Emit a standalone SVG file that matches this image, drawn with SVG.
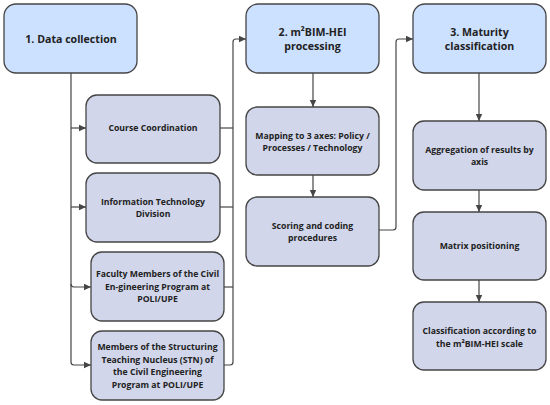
<svg xmlns="http://www.w3.org/2000/svg" width="550" height="405" viewBox="0 0 550 405">
<style>
.h{fill:#cce0ff;stroke:#454545;stroke-width:1.3}
.s{fill:#d1d6ea;stroke:#454545;stroke-width:1.3}
.ht{font-family:"Open Sans","Noto Sans",sans-serif;font-weight:700;font-size:10.6px;fill:#222;text-anchor:middle}
.st{font-family:"Open Sans","Noto Sans",sans-serif;font-weight:700;font-size:8.7px;fill:#222;text-anchor:middle}
.c{fill:none;stroke:#454545;stroke-width:1.2}
</style>
<defs>
<marker id="a" markerWidth="8" markerHeight="8" refX="7" refY="4" orient="auto" markerUnits="userSpaceOnUse">
<path d="M0,0.8 L7,4 L0,7.2 Z" fill="#454545"/>
</marker>
</defs>
<g id="connectors">
<path class="c" marker-end="url(#a)" d="M71,73 V362 Q71,365 74,365 H91"/>
<path class="c" marker-end="url(#a)" d="M71,128 H86"/>
<path class="c" marker-end="url(#a)" d="M71,207 H86"/>
<path class="c" marker-end="url(#a)" d="M71,284 Q71,287 74,287 H91"/>
<path class="c" marker-end="url(#a)" d="M224,365 H230 Q233,365 233,362 V42 Q233,39 236,39 H246"/>
<path class="c" d="M220,128 H233"/>
<path class="c" d="M220,207 H233"/>
<path class="c" d="M224,287 H233"/>
<path class="c" marker-end="url(#a)" d="M313,73 V107"/>
<path class="c" marker-end="url(#a)" d="M313,175 V197"/>
<path class="c" marker-end="url(#a)" d="M379,230 H393 Q396,230 396,227 V42 Q396,39 399,39 H413"/>
<path class="c" marker-end="url(#a)" d="M479,73 V121"/>
<path class="c" marker-end="url(#a)" d="M479,190 V212"/>
<path class="c" marker-end="url(#a)" d="M479,280 V302"/>
</g>
<g id="n1"><rect class="h" x="4" y="4" width="133" height="69" rx="12"/><text class="ht" x="71" y="42.8">1. Data collection</text></g>
<g id="n2"><rect class="h" x="246" y="4" width="133" height="69" rx="12"/><text class="ht" x="312.5" y="36">2. m²BIM-HEI</text><text class="ht" x="312.5" y="49.5">processing</text></g>
<g id="n3"><rect class="h" x="413" y="4" width="133" height="69" rx="12"/><text class="ht" x="479.5" y="36">3. Maturity</text><text class="ht" x="479.5" y="49.5">classification</text></g>
<g id="cc"><rect class="s" x="86" y="95" width="134" height="68" rx="11"/><text class="st" x="153" y="131">Course Coordination</text></g>
<g id="itd"><rect class="s" x="86" y="173" width="134" height="69" rx="11"/><text class="st" x="153" y="204.5">Information Technology</text><text class="st" x="153" y="217">Division</text></g>
<g id="fm"><rect class="s" x="91" y="252" width="133" height="69" rx="11"/><text class="st" x="157.5" y="277">Faculty Members of the Civil</text><text class="st" x="157.5" y="289.5">En-gineering Program at</text><text class="st" x="157.5" y="302">POLI/UPE</text></g>
<g id="stn"><rect class="s" x="91" y="331" width="133" height="69" rx="11"/><text class="st" x="157.5" y="350">Members of the Structuring</text><text class="st" x="157.5" y="362.5">Teaching Nucleus (STN) of</text><text class="st" x="157.5" y="375">the Civil Engineering</text><text class="st" x="157.5" y="387.5">Program at POLI/UPE</text></g>
<g id="map"><rect class="s" x="246" y="107" width="133" height="68" rx="11"/><text class="st" x="312.5" y="138.5">Mapping to 3 axes: Policy /</text><text class="st" x="312.5" y="151">Processes / Technology</text></g>
<g id="score"><rect class="s" x="246" y="197" width="133" height="69" rx="11"/><text class="st" x="312.5" y="228.5">Scoring and coding</text><text class="st" x="312.5" y="241">procedures</text></g>
<g id="agg"><rect class="s" x="413" y="121" width="133" height="69" rx="11"/><text class="st" x="479.5" y="152.5">Aggregation of results by</text><text class="st" x="479.5" y="165">axis</text></g>
<g id="mat"><rect class="s" x="413" y="212" width="133" height="68" rx="11"/><text class="st" x="479.5" y="249">Matrix positioning</text></g>
<g id="cls"><rect class="s" x="413" y="302" width="133" height="68" rx="11"/><text class="st" x="479.5" y="334">Classification according to</text><text class="st" x="479.5" y="346.5">the m²BIM-HEI scale</text></g>
</svg>
